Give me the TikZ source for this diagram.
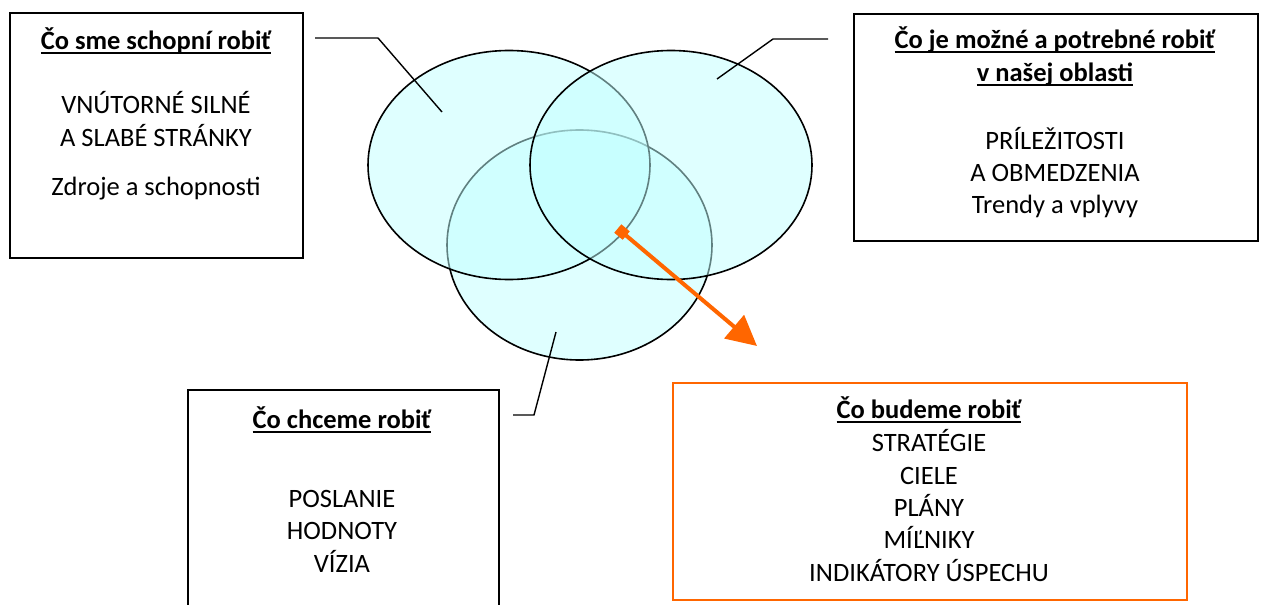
\documentclass[tikz,border=0pt]{standalone}
\usepackage{fontspec}
\setmainfont{Carlito}
\usetikzlibrary{arrows.meta,shapes.geometric}
\definecolor{orng}{RGB}{255,102,0}
\definecolor{vfill}{RGB}{192,255,255}
\newcommand\ulin[1]{\setbox0\hbox{#1}\rlap{\raisebox{-5pt}{\rule{\wd0}{1.8pt}}}\box0}
\begin{document}
\begin{tikzpicture}[x=1pt,y=-1pt,
  box/.style={draw=black, line width=1.7pt, inner sep=0, anchor=north west},
  obox/.style={draw=orng, line width=2.4pt, inner sep=0, anchor=north west},
  txt/.style={anchor=base, inner sep=0, font=\fontsize{26.5}{32}\selectfont},
  ttl/.style={anchor=base, inner sep=0, font=\fontsize{26.5}{32}\selectfont\bfseries},
  venn/.style={ellipse, draw=black, line width=1.6pt, fill=vfill, fill opacity=0.5, inner sep=0},
  lead/.style={draw=black, line width=1.4pt},
  arr/.style={draw=orng, line width=4pt, {Square[length=11pt,width=11pt]}-{Triangle[length=30pt,width=30pt]}}]
\useasboundingbox (0,0) rectangle (1264,605);
\clip (0,0) rectangle (1264,605);
% Venn ellipses
\node[venn, minimum width=265pt, minimum height=230pt] (e3) at (579.5,245) {};
\node[venn, minimum width=282pt, minimum height=229pt] (e1) at (509,165) {};
\node[venn, minimum width=282pt, minimum height=229pt] (e2) at (671,165) {};
% boxes
\node[box, minimum width=293pt, minimum height=245pt] (b1) at (9,12) {};
\node[box, minimum width=404pt, minimum height=227pt] (b2) at (853,13) {};
\node[box, minimum width=311pt, minimum height=240pt] (b3) at (187,389) {};
\node[obox, minimum width=514pt, minimum height=217pt] (b4) at (672,382) {};
% box 1 texts
\node[ttl] (t1a) at (156,49) {\ulin{Čo sme schopní robiť}};
\node[txt] (t1b) at (156,113) {VNÚTORNÉ SILNÉ};
\node[txt] (t1c) at (156,146) {A SLABÉ STRÁNKY};
\node[txt] (t1d) at (156,195) {Zdroje a schopnosti};
% box 2 texts
\node[ttl] (t2a) at (1055,48) {\ulin{Čo je možné a potrebné robiť}};
\node[ttl] (t2b) at (1055,81) {\ulin{v našej oblasti}};
\node[txt] (t2c) at (1055,149) {PRÍLEŽITOSTI};
\node[txt] (t2d) at (1055,181) {A OBMEDZENIA};
\node[txt] (t2e) at (1055,213) {Trendy a vplyvy};
% box 3 texts
\node[ttl] (t3a) at (342,428) {\ulin{Čo chceme robiť}};
\node[txt] (t3b) at (342,507) {POSLANIE};
\node[txt] (t3c) at (342,539) {HODNOTY};
\node[txt] (t3d) at (342,572) {VÍZIA};
% box 4 texts
\node[ttl] (t4a) at (929,418) {\ulin{Čo budeme robiť}};
\node[txt] (t4b) at (929,451) {STRATÉGIE};
\node[txt] (t4c) at (929,484) {CIELE};
\node[txt] (t4d) at (929,516) {PLÁNY};
\node[txt] (t4e) at (929,548) {MÍĽNIKY};
\node[txt] (t4f) at (929,581) {INDIKÁTORY ÚSPECHU};
% leader lines
\coordinate (l1a) at (315,38);
\coordinate (l1b) at (378,38);
\coordinate (l1c) at (442,112);
\draw[lead] (l1a) -- (l1b) -- (l1c);
\coordinate (l2a) at (828,39);
\coordinate (l2b) at (773,39);
\coordinate (l2c) at (717,79);
\draw[lead] (l2a) -- (l2b) -- (l2c);
\coordinate (l3a) at (513,415);
\coordinate (l3b) at (534,415);
\coordinate (l3c) at (556,332);
\draw[lead] (l3a) -- (l3b) -- (l3c);
% arrow
\coordinate (as) at (617.8,228.5);
\coordinate (ae) at (757,346);
\draw[arr] (as) -- (ae);
\end{tikzpicture}
\end{document}
